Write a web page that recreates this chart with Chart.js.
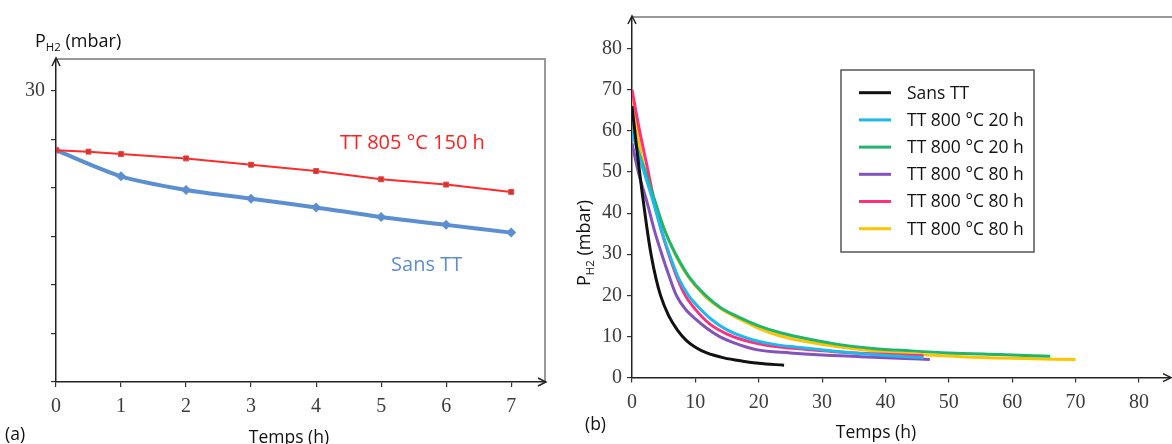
<!DOCTYPE html>
<html>
<head>
<meta charset="utf-8">
<script src="https://cdn.jsdelivr.net/npm/chart.js@4.4.1/dist/chart.umd.min.js"></script>
<style>
  html, body { margin: 0; padding: 0; background: #fff; }
  body { width: 1172px; height: 444px; position: relative; overflow: hidden; }
  canvas { position: absolute; top: 0; }
  #chartA { left: 0; }
  #chartB { left: 560px; }
</style>
</head>
<body>
<canvas id="chartA" width="560" height="444"></canvas>
<canvas id="chartB" width="612" height="444"></canvas>
<script>
// ---------- (a) data ----------
const hoursTT = [0, 0.5, 1, 2, 3, 4, 5, 6, 7];
const pTT805 = [23.9, 23.75, 23.5, 23.05, 22.4, 21.75, 20.9, 20.35, 19.6];
const hoursSans = [0, 1, 2, 3, 4, 5, 6, 7];
const pSansA = [23.9, 21.2, 19.8, 18.9, 18.0, 17.0, 16.2, 15.4];

// ---------- (b) data ----------
const labelsB = ['Sans TT', 'TT 800 °C 20 h', 'TT 800 °C 20 h', 'TT 800 °C 80 h', 'TT 800 °C 80 h', 'TT 800 °C 80 h'];
const colorsB = ['#111111', '#1db8ec', '#1fb56c', '#8452bd', '#ff2f80', '#ffc400'];
const tBlack = [0, 0.8, 1.6, 2.3, 3.0, 3.8, 4.5, 5.8, 7.2, 8.6, 10, 11.8, 14.5, 17.5, 20, 24];
const pBlack = [66, 55, 45, 37, 30, 24, 20, 15, 11.5, 9, 7.4, 6, 4.8, 4.0, 3.5, 3.0];
const tCyan = [0, 0.9, 1.9, 3.3, 4.6, 5.9, 7.4, 8.9, 10.4, 12.5, 15, 18.6, 22, 26.5, 32, 38, 46];
const pCyan = [60, 55, 50, 43, 36, 30, 24, 20, 17.3, 14.2, 11.6, 9.4, 8.2, 7.3, 6.4, 5.6, 4.8];
const tGreen = [0, 1, 2.1, 3.6, 5.1, 6.9, 9, 11.6, 14, 17, 20, 23, 26.5, 32, 38, 44, 50, 58, 66];
const pGreen = [60, 55, 50, 43, 36, 30, 24.5, 20, 17, 14.6, 12.6, 11.1, 9.8, 8.2, 7.1, 6.5, 6.0, 5.6, 5.2];
const tPurple = [0, 1, 2.4, 3.5, 4.7, 5.9, 7, 8.5, 10, 11.8, 13.9, 16, 19.6, 25, 30, 36, 42, 47];
const pPurple = [57, 50, 42.5, 36, 30, 24.5, 20, 16.5, 14.3, 12, 9.9, 8.5, 6.8, 6.0, 5.5, 5.1, 4.7, 4.4];
const tPink = [0, 1.2, 2.5, 3.5, 4.6, 5.8, 7.2, 8.4, 10, 12.3, 15, 18.6, 22, 26.5, 32, 38, 46];
const pPink = [70, 60, 50.5, 43, 36, 30, 24, 20, 16.6, 13, 10.6, 8.7, 7.7, 7.0, 6.3, 5.8, 5.3];
const tYellow = [0, 0.6, 1.2, 2.1, 3.5, 5, 6.8, 8.9, 11.4, 14, 17, 20, 23, 26.5, 32, 38, 44, 52, 60, 70];
const pYellow = [70, 62, 56, 50, 43, 36.5, 30, 24.5, 20, 16.8, 14.2, 12, 10.3, 9.0, 7.6, 6.5, 5.8, 5.1, 4.7, 4.4];

const SANS = '"Open Sans", sans-serif';
const SERIF = '"Liberation Serif", "DejaVu Serif", serif';

const toXY = (xs, ys) => xs.map((x, i) => ({ x: x, y: ys[i] }));

// text with optional subscript parts
function drawParts(ctx, parts, x, y, align) {
  let total = 0;
  parts.forEach(p => { ctx.font = p.size + 'px ' + SANS; total += ctx.measureText(p.t).width; });
  let cx = align === 'center' ? x - total / 2 : x;
  ctx.textAlign = 'left';
  parts.forEach(p => {
    ctx.font = p.size + 'px ' + SANS;
    ctx.fillText(p.t, cx, y + (p.dy || 0));
    cx += ctx.measureText(p.t).width;
  });
}

const deco = {
  id: 'deco',
  beforeDatasetsDraw(chart, args, opts) {
    const ctx = chart.ctx, a = chart.chartArea;
    ctx.save();
    ctx.strokeStyle = '#999';
    ctx.lineWidth = 2;
    ctx.beginPath();
    ctx.moveTo(a.left, a.top);
    ctx.lineTo(opts.frameEnd || a.right, a.top);
    if (opts.rightEdge) ctx.lineTo(a.right, a.bottom);
    ctx.stroke();
    ctx.restore();
  },
  afterDraw(chart, args, opts) {
    const ctx = chart.ctx, a = chart.chartArea;
    ctx.save();
    // axis arrows
    ctx.strokeStyle = '#222';
    ctx.lineWidth = 1.5;
    ctx.beginPath();
    ctx.moveTo(a.left - 4, a.top + 7); ctx.lineTo(a.left, a.top - 1); ctx.lineTo(a.left + 4, a.top + 7);
    ctx.moveTo(a.right - 7, a.bottom - 4); ctx.lineTo(a.right + 1, a.bottom); ctx.lineTo(a.right - 7, a.bottom + 4);
    ctx.stroke();

    ctx.textBaseline = 'alphabetic';
    (opts.texts || []).forEach(t => {
      ctx.fillStyle = t.color || '#111';
      let x = t.x, y = t.y;
      if (t.data) {
        x = chart.scales.x.getPixelForValue(t.x);
        y = chart.scales.y.getPixelForValue(t.y);
      }
      if (t.rotate) {
        ctx.save();
        ctx.translate(x, y);
        ctx.rotate(-Math.PI / 2);
        drawParts(ctx, t.parts, 0, 0, 'center');
        ctx.restore();
      } else {
        drawParts(ctx, t.parts, x, y, t.align);
      }
    });

    // legend box
    const lg = opts.legend;
    if (lg) {
      ctx.strokeStyle = '#555';
      ctx.lineWidth = 1.5;
      ctx.strokeRect(lg.x, lg.y, lg.w, lg.h);
      ctx.font = lg.size + 'px ' + SANS;
      ctx.textBaseline = 'middle';
      ctx.textAlign = 'left';
      chart.data.datasets.forEach((ds, i) => {
        const ry = lg.y + lg.first + i * lg.row;
        ctx.strokeStyle = ds.borderColor;
        ctx.lineWidth = 3;
        ctx.beginPath();
        ctx.moveTo(lg.x + 18, ry); ctx.lineTo(lg.x + 50, ry);
        ctx.stroke();
        ctx.fillStyle = '#111';
        ctx.fillText(ds.label, lg.x + 66, ry + 1);
      });
    }
    ctx.restore();
  }
};

function axisX(max, step, height, pad) {
  return {
    type: 'linear', min: 0, max: max,
    afterFit: s => { s.height = height; },
    border: { display: true, color: '#222', width: 1.5 },
    grid: { display: true, drawOnChartArea: false, drawTicks: true, tickLength: 5, color: '#333', lineWidth: 1.2 },
    ticks: { stepSize: step, includeBounds: false, padding: pad, color: '#3c3c3c', font: { family: SERIF, size: 20 } }
  };
}
function axisY(max, step, width, pad, cb) {
  return {
    type: 'linear', min: 0, max: max,
    afterFit: s => { s.width = width; },
    border: { display: true, color: '#222', width: 1.5 },
    grid: { display: true, drawOnChartArea: false, drawTicks: true, tickLength: 5, color: '#333', lineWidth: 1.2 },
    ticks: { stepSize: step, includeBounds: false, padding: pad, color: '#3c3c3c', font: { family: SERIF, size: 20 }, callback: cb }
  };
}

// ---------- chart (a) ----------
new Chart(document.getElementById('chartA'), {
  type: 'line',
  data: {
    datasets: [
      {
        label: 'TT 805 °C 150 h',
        data: toXY(hoursTT, pTT805),
        borderColor: '#ff2a2a', borderWidth: 2,
        pointStyle: 'rect', pointRadius: 3.5,
        pointBackgroundColor: '#d8322e', pointBorderColor: '#e24a44', pointBorderWidth: 1
      },
      {
        label: 'Sans TT',
        data: toXY(hoursSans, pSansA),
        borderColor: '#5b8fd1', borderWidth: 4, tension: 0.25,
        pointStyle: 'rectRot', pointRadius: 5,
        pointBackgroundColor: '#5b8fd1', pointBorderColor: '#5b8fd1', pointBorderWidth: 0
      }
    ]
  },
  options: {
    responsive: false, animation: false,
    layout: { padding: { top: 59, right: 15, left: 0, bottom: 0 } },
    scales: {
      x: axisX(7.52, 1, 62, 8),
      y: axisY(33.3, 5, 56, 6, v => (v === 30 ? '30' : ''))
    },
    plugins: {
      legend: { display: false }, tooltip: { enabled: false },
      deco: {
        rightEdge: true,
        texts: [
          { parts: [{ t: 'P', size: 18 }, { t: 'H2', size: 11.5, dy: 4 }, { t: ' (mbar)', size: 18 }], x: 35, y: 47 },
          { parts: [{ t: '(a)', size: 17.5 }], x: 5, y: 440 },
          { parts: [{ t: 'Temps (h)', size: 17.5 }], x: 289, y: 443, align: 'center' },
          { parts: [{ t: 'TT 805 °C 150 h', size: 20 }], data: true, x: 5.48, y: 24.0, align: 'center', color: '#ff2020' },
          { parts: [{ t: 'Sans TT', size: 20 }], data: true, x: 5.7, y: 11.4, align: 'center', color: '#5b8fd1' }
        ]
      }
    }
  },
  plugins: [deco]
});

// ---------- chart (b) ----------
const seriesB = [
  [tBlack, pBlack], [tCyan, pCyan], [tGreen, pGreen],
  [tPurple, pPurple], [tPink, pPink], [tYellow, pYellow]
];
new Chart(document.getElementById('chartB'), {
  type: 'line',
  data: {
    datasets: seriesB.map((s, i) => ({
      label: labelsB[i],
      data: toXY(s[0], s[1]),
      borderColor: colorsB[i], borderWidth: 3,
      pointRadius: 0, cubicInterpolationMode: 'monotone'
    }))
  },
  options: {
    responsive: false, animation: false,
    layout: { padding: { top: 12, right: 2, left: 0, bottom: 0 } },
    scales: {
      x: axisX(84.9, 10, 66.4, 8),
      y: axisY(87.7, 10, 72, 5)
    },
    plugins: {
      legend: { display: false }, tooltip: { enabled: false },
      deco: {
        frameEnd: 612,
        texts: [
          { parts: [{ t: 'P', size: 18 }, { t: 'H2', size: 11.5, dy: 4 }, { t: ' (mbar)', size: 18 }], x: 30, y: 243, rotate: true },
          { parts: [{ t: '(b)', size: 17.5 }], x: 25, y: 430 },
          { parts: [{ t: 'Temps (h)', size: 17.5 }], x: 316, y: 438, align: 'center' }
        ],
        legend: { x: 281, y: 70, w: 193, h: 182, first: 22.7, row: 27.2, size: 17.5 }
      }
    }
  },
  plugins: [deco]
});
</script>
</body>
</html>
